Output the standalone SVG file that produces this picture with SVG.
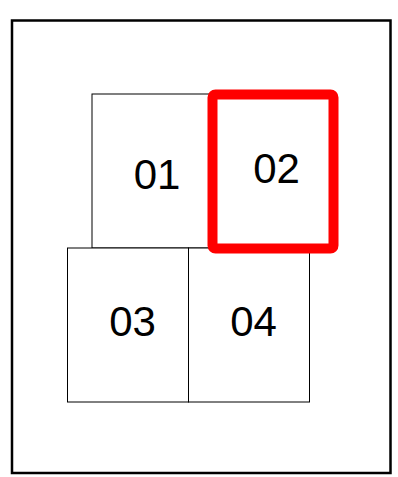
<svg xmlns="http://www.w3.org/2000/svg" width="398" height="477" viewBox="0 0 398 477">
<style>
.box{fill:#fff;stroke:#000;stroke-width:1}
.lbl{font-family:"Liberation Sans",Arial,sans-serif;font-size:42px;fill:#000;text-anchor:middle}
</style>
<rect x="0" y="0" width="398" height="477" fill="#fff"/>
<rect id="frame" x="12" y="20.5" width="378.5" height="452.5" fill="none" stroke="#000" stroke-width="2.5"/>
<g id="connectors"></g>
<g id="n01"><rect class="box" x="92" y="94" width="121" height="154"/><text class="lbl" x="157" y="189">01</text></g>
<g id="n03"><rect class="box" x="67.5" y="248" width="121" height="154"/><text class="lbl" x="132.5" y="336">03</text></g>
<g id="n04"><rect class="box" x="188.5" y="248" width="121" height="154"/><text class="lbl" x="253.5" y="336">04</text></g>
<g id="n02"><rect x="212.5" y="94.5" width="121" height="154" rx="3" fill="#fff" stroke="#ff0000" stroke-width="10" stroke-linejoin="round"/><text class="lbl" x="276.5" y="183">02</text></g>
</svg>
